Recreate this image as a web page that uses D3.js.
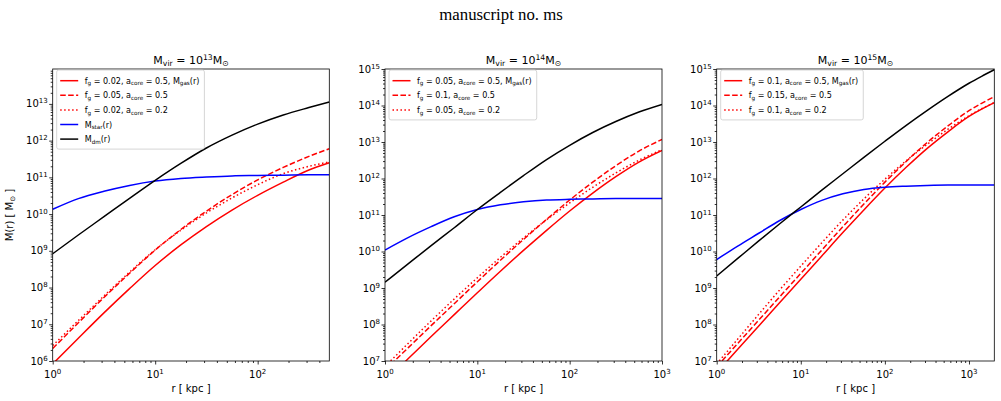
<!DOCTYPE html>
<html>
<head>
<meta charset="utf-8">
<script src="https://cdn.jsdelivr.net/npm/d3@7"></script>
<style>
body { margin: 0; background: #fff; }
text { font-family: "DejaVu Sans", sans-serif; fill: #000; }
</style>
</head>
<body>
<svg id="fig" width="1001" height="401"></svg>
<script>
const r1 = [1, 1.778, 3.162, 5.623, 10, 17.78, 31.62, 56.23, 100, 177.8, 316.2, 500];
const r2 = [1, 1.778, 3.162, 5.623, 10, 17.78, 31.62, 56.23, 100, 177.8, 316.2, 562.3, 1000];
const r3 = [1, 1.778, 3.162, 5.623, 10, 17.78, 31.62, 56.23, 100, 177.8, 316.2, 562.3, 1000, 1413, 2000];

// log10 M(r) [Msun], Mvir = 1e13
const dm1   = [8.92, 9.43, 9.93, 10.43, 10.92, 11.38, 11.8, 12.15, 12.45, 12.7, 12.9, 13.05];
const star1 = [10.13, 10.42, 10.62, 10.78, 10.9, 10.97, 11.01, 11.04, 11.05, 11.06, 11.07, 11.07];
const gasA1 = [5.92, 6.62, 7.31, 7.97, 8.6, 9.16, 9.66, 10.11, 10.51, 10.87, 11.2, 11.4];
const gasB1 = [6.34, 7.04, 7.73, 8.39, 9.02, 9.58, 10.08, 10.53, 10.93, 11.27, 11.57, 11.78];
const gasC1 = [6.42, 7.1, 7.77, 8.42, 9.03, 9.56, 10.03, 10.44, 10.8, 11.1, 11.3, 11.42];

// Mvir = 1e14
const dm2   = [9.16, 9.66, 10.16, 10.65, 11.15, 11.62, 12.08, 12.52, 12.91, 13.26, 13.56, 13.82, 14.03];
const star2 = [10.04, 10.38, 10.68, 10.95, 11.15, 11.28, 11.36, 11.41, 11.43, 11.44, 11.45, 11.45, 11.45];
const gasA2 = [6.45, 7.06, 7.67, 8.27, 8.87, 9.46, 10.03, 10.58, 11.11, 11.6, 12.05, 12.45, 12.77];
const gasB2 = [6.75, 7.36, 7.97, 8.57, 9.17, 9.76, 10.33, 10.88, 11.41, 11.9, 12.35, 12.75, 13.07];
const gasC2 = [6.85, 7.48, 8.1, 8.7, 9.28, 9.84, 10.37, 10.87, 11.33, 11.76, 12.15, 12.5, 12.79];

// Mvir = 1e15
const dm3   = [9.33, 9.81, 10.29, 10.76, 11.22, 11.68, 12.13, 12.58, 13.02, 13.45, 13.86, 14.25, 14.61, 14.8, 14.98];
const star3 = [9.78, 10.15, 10.5, 10.85, 11.15, 11.4, 11.58, 11.7, 11.76, 11.79, 11.81, 11.82, 11.82, 11.82, 11.82];
const gasA3 = [6.68, 7.32, 7.96, 8.6, 9.24, 9.88, 10.52, 11.14, 11.74, 12.3, 12.82, 13.28, 13.7, 13.9, 14.08];
const gasB3 = [6.84, 7.48, 8.12, 8.76, 9.4, 10.04, 10.68, 11.3, 11.9, 12.46, 12.98, 13.44, 13.86, 14.06, 14.24];
const gasC3 = [6.92, 7.6, 8.28, 8.95, 9.6, 10.24, 10.86, 11.44, 11.98, 12.48, 12.93, 13.35, 13.72, 13.91, 14.08];

// legend texts: [text, "" | "sub" | "sup"]
const leg1 = [
  [["f", ""], ["g", "sub"], [" = 0.02, a", ""], ["core", "sub"], [" = 0.5, M", ""], ["gas", "sub"], ["(r)", ""]],
  [["f", ""], ["g", "sub"], [" = 0.05, a", ""], ["core", "sub"], [" = 0.5", ""]],
  [["f", ""], ["g", "sub"], [" = 0.02, a", ""], ["core", "sub"], [" = 0.2", ""]],
  [["M", ""], ["star", "sub"], ["(r)", ""]],
  [["M", ""], ["dm", "sub"], ["(r)", ""]]
];
const leg2 = [
  [["f", ""], ["g", "sub"], [" = 0.05, a", ""], ["core", "sub"], [" = 0.5, M", ""], ["gas", "sub"], ["(r)", ""]],
  [["f", ""], ["g", "sub"], [" = 0.1, a", ""], ["core", "sub"], [" = 0.5", ""]],
  [["f", ""], ["g", "sub"], [" = 0.05, a", ""], ["core", "sub"], [" = 0.2", ""]]
];
const leg3 = [
  [["f", ""], ["g", "sub"], [" = 0.1, a", ""], ["core", "sub"], [" = 0.5, M", ""], ["gas", "sub"], ["(r)", ""]],
  [["f", ""], ["g", "sub"], [" = 0.15, a", ""], ["core", "sub"], [" = 0.5", ""]],
  [["f", ""], ["g", "sub"], [" = 0.1, a", ""], ["core", "sub"], [" = 0.2", ""]]
];

const xTicks1 = [0, 1, 2];
const xTicks2 = [0, 1, 2, 3];
const yTicks1 = [6, 7, 8, 9, 10, 11, 12, 13];
const yTicks2 = [7, 8, 9, 10, 11, 12, 13, 14, 15];
const titles = ["13", "14", "15"];

const styles = {
  solid:  { color: "#ff0000", dash: null },
  dashed: { color: "#ff0000", dash: "5.55,2.4" },
  dotted: { color: "#ff0000", dash: "1.5,2.475" },
  star:   { color: "#0000ff", dash: null },
  dm:     { color: "#000000", dash: null }
};

const panels = [
  { left: 52.7, right: 329.3, xmax: 500, ymin: 6, ymax: 13.95, xt: xTicks1, yt: yTicks1, title: titles[0],
    r: r1, curves: [["solid", gasA1], ["dashed", gasB1], ["dotted", gasC1], ["star", star1], ["dm", dm1]],
    legend: leg1, legStyles: ["solid", "dashed", "dotted", "star", "dm"] },
  { left: 385, right: 662, xmax: 1000, ymin: 7, ymax: 15, xt: xTicks2, yt: yTicks2, title: titles[1],
    r: r2, curves: [["solid", gasA2], ["dashed", gasB2], ["dotted", gasC2], ["star", star2], ["dm", dm2]],
    legend: leg2, legStyles: ["solid", "dashed", "dotted"] },
  { left: 716.7, right: 994.3, xmax: 2000, ymin: 7, ymax: 15, xt: xTicks2, yt: yTicks2, title: titles[2],
    r: r3, curves: [["solid", gasA3], ["dashed", gasB3], ["dotted", gasC3], ["star", star3], ["dm", dm3]],
    legend: leg3, legStyles: ["solid", "dashed", "dotted"] }
];

const yTop = 69, yBot = 361;
const svg = d3.select("#fig");

function rich(sel, segs, fs) {
  let off = 0;
  segs.forEach(([txt, kind]) => {
    const target = kind === "sup" ? -0.4 * fs : kind === "sub" ? 0.22 * fs : 0;
    sel.append("tspan")
      .attr("dy", target - off)
      .attr("font-size", kind ? fs * 0.7 : fs)
      .text(txt);
    off = target;
  });
}

function minors(lo, hi) {
  let out = [];
  for (let d = Math.floor(lo); d <= Math.ceil(hi); d++) {
    for (let k = 2; k <= 9; k++) {
      const v = Math.log10(k) + d;
      if (v > lo && v < hi) out.push(Math.pow(10, v));
    }
  }
  return out;
}

svg.append("text")
  .attr("x", 501).attr("y", 20)
  .attr("text-anchor", "middle")
  .style("font-family", "'Liberation Serif', serif")
  .attr("font-size", 16.8)
  .text("manuscript no. ms");

panels.forEach((p, i) => {
  const x = d3.scaleLog().domain([1, p.xmax]).range([p.left, p.right]);
  const y = d3.scaleLog().domain([Math.pow(10, p.ymin), Math.pow(10, p.ymax)]).range([yBot, yTop]);
  const g = svg.append("g");

  g.append("clipPath").attr("id", "clip" + i)
    .append("rect")
    .attr("x", p.left).attr("y", yTop)
    .attr("width", p.right - p.left).attr("height", yBot - yTop);

  const line = d3.line()
    .x(d => x(d[0]))
    .y(d => y(Math.pow(10, d[1])))
    .curve(d3.curveMonotoneX);

  const plot = g.append("g").attr("clip-path", "url(#clip" + i + ")");
  p.curves.forEach(([st, vals]) => {
    const s = styles[st];
    plot.append("path")
      .datum(p.r.map((r, j) => [r, vals[j]]))
      .attr("d", line)
      .attr("fill", "none")
      .attr("stroke", s.color)
      .attr("stroke-width", 1.5)
      .attr("stroke-dasharray", s.dash);
  });

  // ticks
  const xMaj = p.xt.map(e => Math.pow(10, e));
  const yMaj = p.yt.map(e => Math.pow(10, e));
  const tickStyle = sel => {
    sel.select(".domain").remove();
    sel.selectAll("line").attr("stroke", "#000").attr("stroke-width", 0.8);
  };
  g.append("g").attr("transform", `translate(0,${yBot})`)
    .call(d3.axisBottom(x).tickValues(xMaj).tickSize(3.5).tickFormat(""))
    .call(tickStyle);
  g.append("g").attr("transform", `translate(0,${yBot})`)
    .call(d3.axisBottom(x).tickValues(minors(0, Math.log10(p.xmax))).tickSize(2).tickFormat(""))
    .call(tickStyle);
  g.append("g").attr("transform", `translate(${p.left},0)`)
    .call(d3.axisLeft(y).tickValues(yMaj).tickSize(3.5).tickFormat(""))
    .call(tickStyle);
  g.append("g").attr("transform", `translate(${p.left},0)`)
    .call(d3.axisLeft(y).tickValues(minors(p.ymin, p.ymax)).tickSize(2).tickFormat(""))
    .call(tickStyle);

  // tick labels
  p.xt.forEach(e => {
    const t = g.append("text")
      .attr("x", x(Math.pow(10, e))).attr("y", yBot + 17)
      .attr("text-anchor", "middle");
    rich(t, [["10", ""], [String(e), "sup"]], 10);
  });
  p.yt.forEach(e => {
    const t = g.append("text")
      .attr("x", p.left - 5).attr("y", y(Math.pow(10, e)) + 3.6)
      .attr("text-anchor", "end");
    rich(t, [["10", ""], [String(e), "sup"]], 10);
  });

  // frame
  g.append("rect")
    .attr("x", p.left).attr("y", yTop)
    .attr("width", p.right - p.left).attr("height", yBot - yTop)
    .attr("fill", "none").attr("stroke", "#000").attr("stroke-width", 0.8);

  // title
  const cx = (p.left + p.right) / 2;
  const tt = g.append("text").attr("x", cx).attr("y", 64).attr("text-anchor", "middle");
  rich(tt, [["M", ""], ["vir", "sub"], [" = 10", ""], [p.title, "sup"], ["M", ""], ["⊙", "sub"]], 11);

  // x label
  g.append("text").attr("x", cx).attr("y", 392).attr("text-anchor", "middle")
    .attr("font-size", 10).text("r [ kpc ]");

  // legend
  const lg = g.append("g");
  const bx = p.left + 4, by = 70;
  const box = lg.append("rect")
    .attr("x", bx).attr("y", by).attr("rx", 2)
    .attr("fill", "#fff").attr("fill-opacity", 0.8)
    .attr("stroke", "#cccccc").attr("stroke-width", 0.8);
  let maxW = 0;
  p.legend.forEach((segs, j) => {
    const ly = by + 10.7 + j * 14.6;
    const s = styles[p.legStyles[j]];
    lg.append("line")
      .attr("x1", bx + 3.5).attr("x2", bx + 21.5)
      .attr("y1", ly).attr("y2", ly)
      .attr("stroke", s.color).attr("stroke-width", 1.5)
      .attr("stroke-dasharray", s.dash);
    const t = lg.append("text").attr("x", bx + 28).attr("y", ly + 3);
    rich(t, segs, 8.05);
    maxW = Math.max(maxW, t.node().getComputedTextLength());
  });
  box.attr("width", 28 + maxW + 5).attr("height", 10.7 + (p.legend.length - 1) * 14.6 + 10);
});

// y label
const yl = svg.append("text")
  .attr("transform", "translate(13,215) rotate(-90)")
  .attr("text-anchor", "middle");
rich(yl, [["M(r) [ M", ""], ["⊙", "sub"], [" ]", ""]], 10);
</script>
</body>
</html>
